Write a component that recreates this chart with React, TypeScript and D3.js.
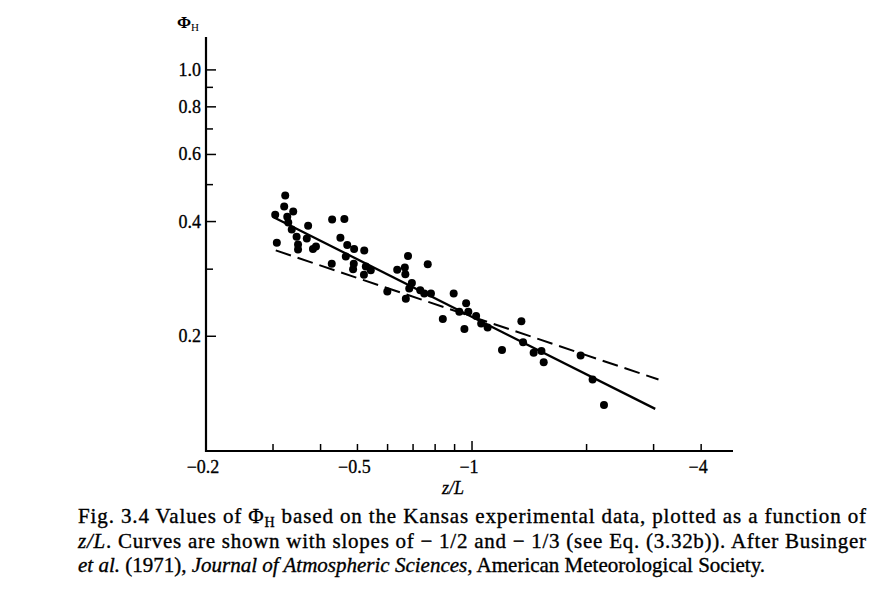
import { useEffect, useRef } from 'react';
import * as d3 from 'd3';

// Kansas data: magnitude of z/L (plotted as -z/L) and PhiH
const zOverL = [
  0.323, 0.321, 0.339, 0.304, 0.327, 0.329, 0.336, 0.371, 0.346, 0.368,
  0.349, 0.349, 0.307, 0.389, 0.382, 0.429, 0.462, 0.451, 0.470, 0.490,
  0.521, 0.466, 0.428, 0.489, 0.487, 0.526, 0.520, 0.542, 0.599, 0.636,
  0.679, 0.765, 0.666, 0.668, 0.695, 0.684, 0.670, 0.731, 0.749, 0.780,
  0.895, 0.838, 0.965, 0.926, 0.978, 1.025, 1.057, 0.955, 1.099, 1.348,
  1.362, 1.199, 1.452, 1.522, 1.543, 1.929, 2.074, 2.222,
];
const phiH = [
  0.468, 0.438, 0.425, 0.417, 0.412, 0.398, 0.381, 0.390, 0.365, 0.361,
  0.348, 0.338, 0.352, 0.344, 0.339, 0.405, 0.406, 0.363, 0.347, 0.339,
  0.336, 0.324, 0.310, 0.310, 0.300, 0.305, 0.290, 0.298, 0.262, 0.299,
  0.325, 0.309, 0.303, 0.291, 0.276, 0.267, 0.251, 0.264, 0.259, 0.259,
  0.259, 0.222, 0.244, 0.232, 0.232, 0.226, 0.216, 0.209, 0.211, 0.219,
  0.193, 0.184, 0.181, 0.183, 0.171, 0.178, 0.154, 0.132,
];

// slope -1/2 (solid) and -1/3 (dashed) curves, end points
const halfSlopeX = [0.302, 3.03];
const halfSlopeY = [0.41, 0.129];
const thirdSlopeX = [0.305, 3.09];
const thirdSlopeY = [0.336, 0.154];

const xMinorTicks = [0.3, 0.4, 0.5, 0.6, 0.7, 0.8, 0.9, 2, 3, 4];
const xMajorTicks = [1];
const xLabelValues = [0.2, 0.5, 1, 4];
const xLabelTexts = ['\u22120.2', '\u22120.5', '\u22121', '\u22124'];

const yMinorTicks = [0.3, 0.5, 0.7, 0.9];
const yLabelValues = [0.2, 0.4, 0.6, 0.8, 1.0];
const yLabelTexts = ['0.2', '0.4', '0.6', '0.8', '1.0'];

const FONT = '"Liberation Serif", "Times New Roman", serif';

function KansasChart() {
  const svgRef = useRef<SVGSVGElement>(null);

  useEffect(() => {
    if (!svgRef.current) return;
    const svg = d3.select(svgRef.current);
    svg.selectAll('*').remove();

    const x = d3.scaleLog().domain([0.2, 4.85]).range([206, 733]);
    const y = d3.scaleLog().domain([0.1, 1.22]).range([451, 37]);
    const x0 = x(0.2);
    const y0 = y(0.1);

    // axes
    svg.append('line')
      .attr('x1', x0).attr('x2', x0)
      .attr('y1', y0 + 1).attr('y2', y(1.22))
      .attr('stroke', '#000').attr('stroke-width', 2.2);
    svg.append('line')
      .attr('x1', x0 - 1).attr('x2', x(4.85))
      .attr('y1', y0).attr('y2', y0)
      .attr('stroke', '#000').attr('stroke-width', 2.2);

    // x ticks point up into the plot
    const xt = svg.append('g').attr('stroke', '#000').attr('stroke-width', 1.5);
    xMinorTicks.forEach((v) => {
      xt.append('line').attr('x1', x(v)).attr('x2', x(v)).attr('y1', y0).attr('y2', y0 - 7);
    });
    xMajorTicks.forEach((v) => {
      xt.append('line').attr('x1', x(v)).attr('x2', x(v)).attr('y1', y0).attr('y2', y0 - 10);
    });
    xLabelValues.forEach((v, i) => {
      svg.append('text')
        .attr('x', x(v) - 3)
        .attr('y', y0 + 22)
        .attr('text-anchor', 'middle')
        .style('font-family', FONT)
        .style('font-size', '18px')
        .style('stroke', '#000')
        .style('stroke-width', '0.3px')
        .text(xLabelTexts[i]);
    });

    // y ticks point right into the plot
    const yt = svg.append('g').attr('stroke', '#000').attr('stroke-width', 1.5);
    yMinorTicks.forEach((v) => {
      yt.append('line').attr('x1', x0).attr('x2', x0 + 7).attr('y1', y(v)).attr('y2', y(v));
    });
    yLabelValues.forEach((v, i) => {
      yt.append('line').attr('x1', x0).attr('x2', x0 + 10).attr('y1', y(v)).attr('y2', y(v));
      svg.append('text')
        .attr('x', x0 - 5)
        .attr('y', y(v) + 6)
        .attr('text-anchor', 'end')
        .style('font-family', FONT)
        .style('font-size', '18px')
        .style('stroke', '#000')
        .style('stroke-width', '0.3px')
        .text(yLabelTexts[i]);
    });

    // axis titles
    const phi = svg.append('text')
      .attr('x', 177)
      .attr('y', 28)
      .style('font-family', FONT)
      .style('font-size', '17px')
      .style('font-weight', '700');
    phi.append('tspan').text('\u03A6');
    phi.append('tspan').attr('dy', 3).style('font-size', '11px').style('font-weight', '400').text('H');

    svg.append('text')
      .attr('x', 453)
      .attr('y', 494)
      .attr('text-anchor', 'middle')
      .style('font-family', FONT)
      .style('font-size', '18px')
      .style('font-style', 'italic')
      .style('stroke', '#000')
      .style('stroke-width', '0.3px')
      .text('z/L');

    // curves
    const line = d3.line<[number, number]>()
      .x((d) => x(d[0]))
      .y((d) => y(d[1]));

    svg.append('path')
      .datum(halfSlopeX.map((v, i) => [v, halfSlopeY[i]] as [number, number]))
      .attr('d', line)
      .attr('fill', 'none')
      .attr('stroke', '#000')
      .attr('stroke-width', 2.3);

    svg.append('path')
      .datum(thirdSlopeX.map((v, i) => [v, thirdSlopeY[i]] as [number, number]))
      .attr('d', line)
      .attr('fill', 'none')
      .attr('stroke', '#000')
      .attr('stroke-width', 2)
      .attr('stroke-dasharray', '16 7');

    // data points
    svg.append('g')
      .selectAll('circle')
      .data(zOverL)
      .join('circle')
      .attr('cx', (d) => x(d))
      .attr('cy', (_, i) => y(phiH[i]))
      .attr('r', 4)
      .attr('fill', '#000');

    // caption
    const cap = svg.append('g')
      .style('font-family', FONT)
      .style('font-size', '21px')
      .style('stroke', '#000')
      .style('stroke-width', '0.35px')
      .attr('fill', '#000');

    const l1 = cap.append('text').attr('x', 78).attr('y', 523)
      .attr('textLength', 788).attr('lengthAdjust', 'spacing');
    l1.append('tspan').text('Fig. 3.4 Values of \u03A6');
    l1.append('tspan').attr('dy', 4).style('font-size', '14px').text('H');
    l1.append('tspan').attr('dy', -4)
      .text(' based on the Kansas experimental data, plotted as a function of');

    const l2 = cap.append('text').attr('x', 78).attr('y', 547.5)
      .attr('textLength', 788).attr('lengthAdjust', 'spacing');
    l2.append('tspan').style('font-style', 'italic').text('z/L');
    l2.append('tspan')
      .text('. Curves are shown with slopes of \u2212 1/2 and \u2212 1/3 (see Eq. (3.32b)). After Businger');

    const l3 = cap.append('text').attr('x', 78).attr('y', 572);
    l3.append('tspan').style('font-style', 'italic').text('et al.');
    l3.append('tspan').text(' (1971), ');
    l3.append('tspan').style('font-style', 'italic').text('Journal of Atmospheric Sciences');
    l3.append('tspan').text(', American Meteorological Society.');
  }, []);

  return <svg ref={svgRef} width={892} height={600} style={{ display: 'block', background: '#fff' }} />;
}

export default function App() {
  return (
    <div style={{ position: 'absolute', left: 0, top: 0, width: 892, height: 600, background: '#fff' }}>
      <KansasChart />
    </div>
  );
}
